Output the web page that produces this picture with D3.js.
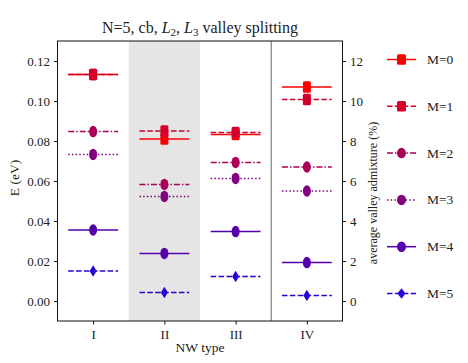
<!DOCTYPE html>
<html>
<head>
<meta charset="utf-8">
<script src="https://cdn.jsdelivr.net/npm/d3@7"></script>
<style>
  body { margin: 0; background: #fff; }
</style>
</head>
<body>
<div id="chart"></div>
<script>
// NW types on the x axis
const nwTypes = ["I", "II", "III", "IV"];
const seriesNames = ["M=0", "M=1", "M=2", "M=3", "M=4", "M=5"];

// energies (eV) per NW type, one array per M
const eM0 = [0.1133, 0.0810, 0.0832, 0.1070];
const eM1 = [0.1133, 0.0850, 0.0842, 0.1008];
const eM2 = [0.0847, 0.0583, 0.0693, 0.0670];
const eM3 = [0.0733, 0.0523, 0.0613, 0.0550];
const eM4 = [0.0355, 0.0238, 0.0347, 0.0192];
const eM5 = [0.0150, 0.0043, 0.0122, 0.0027];

const leftTicks = [0.00, 0.02, 0.04, 0.06, 0.08, 0.10, 0.12];
const rightTicks = [0, 2, 4, 6, 8, 10, 12];

const energies = [eM0, eM1, eM2, eM3, eM4, eM5];
const colors = ["#ff0000", "#d4002a", "#aa0055", "#800080", "#5500aa", "#2a00d4"];
const dashes = [null, "5.5,2.4", "6,2,1.5,2", "1.5,2.2", null, "5.5,2.4"];
const shapes = ["square", "square", "circle", "circle", "circle", "diamond"];

const FONT = "Liberation Serif";
const width = 468, height = 363;
const box = { left: 57.5, right: 342.5, top: 41, bottom: 321 };

const svg = d3.select("#chart").append("svg")
  .attr("width", width)
  .attr("height", height)
  .attr("font-family", FONT);

const x = d3.scaleLinear().domain([-0.5, 3.5]).range([box.left, box.right]);
const yL = d3.scaleLinear().domain([-0.01, 0.13]).range([box.bottom, box.top]);
const yR = d3.scaleLinear().domain([-1, 13]).range([box.bottom, box.top]);

// shaded band for type II, separator before IV
svg.append("rect")
  .attr("x", x(0.5)).attr("y", box.top)
  .attr("width", x(1.5) - x(0.5)).attr("height", box.bottom - box.top)
  .attr("fill", "#e5e5e5");
svg.append("line")
  .attr("x1", x(2.5)).attr("x2", x(2.5))
  .attr("y1", box.top).attr("y2", box.bottom)
  .attr("stroke", "#808080").attr("stroke-width", 1.2);

function drawMarker(g, shape, cx, cy, w, h, color) {
  if (shape === "square") {
    g.append("rect")
      .attr("x", cx - w / 2).attr("y", cy - h / 2)
      .attr("width", w).attr("height", h)
      .attr("rx", 1.5)
      .attr("fill", color);
  } else if (shape === "circle") {
    g.append("ellipse")
      .attr("cx", cx).attr("cy", cy)
      .attr("rx", w / 2).attr("ry", h / 2)
      .attr("fill", color);
  } else {
    g.append("path")
      .attr("d", `M${cx},${cy - h / 2}L${cx + w / 2},${cy}L${cx},${cy + h / 2}L${cx - w / 2},${cy}Z`)
      .attr("fill", color);
  }
}

const plot = svg.append("g");
energies.forEach((vals, m) => {
  const g = plot.append("g");
  vals.forEach((v, i) => {
    g.append("line")
      .attr("x1", x(i - 0.35)).attr("x2", x(i + 0.35))
      .attr("y1", yL(v)).attr("y2", yL(v))
      .attr("stroke", colors[m])
      .attr("stroke-width", 1.5)
      .attr("stroke-dasharray", dashes[m]);
  });
  vals.forEach((v, i) => {
    const w = shapes[m] === "diamond" ? 7 : 8;
    drawMarker(g, shapes[m], x(i), yL(v), w, 11.5, colors[m]);
  });
});

// frame
svg.append("rect")
  .attr("x", box.left).attr("y", box.top)
  .attr("width", box.right - box.left).attr("height", box.bottom - box.top)
  .attr("fill", "none").attr("stroke", "#111").attr("stroke-width", 1);

const leftAxis = svg.append("g")
  .attr("transform", `translate(${box.left},0)`)
  .call(d3.axisLeft(yL).tickValues(leftTicks).tickSize(3.5).tickPadding(4).tickFormat(d3.format(".2f")));
const rightAxis = svg.append("g")
  .attr("transform", `translate(${box.right},0)`)
  .call(d3.axisRight(yR).tickValues(rightTicks).tickSize(3.5).tickPadding(4));
const bottomAxis = svg.append("g")
  .attr("transform", `translate(0,${box.bottom})`)
  .call(d3.axisBottom(x).tickValues([0, 1, 2, 3]).tickSize(3.5).tickPadding(5).tickFormat(i => nwTypes[i]));

[leftAxis, rightAxis, bottomAxis].forEach(a => {
  a.attr("font-family", FONT).attr("font-size", 13);
  a.select(".domain").remove();
  a.selectAll("line").attr("stroke", "#111");
  a.selectAll("text").attr("fill", "#222");
});

function label(sel) {
  return sel.attr("font-family", FONT).attr("fill", "#222");
}

// axis titles
label(svg.append("text"))
  .attr("transform", "translate(19,178) rotate(-90)")
  .attr("text-anchor", "middle")
  .attr("font-size", 13.5)
  .text("E (eV)");
label(svg.append("text"))
  .attr("transform", "translate(377,193) rotate(-90)")
  .attr("text-anchor", "middle")
  .attr("font-size", 12)
  .text("average valley admixture (%)");
label(svg.append("text"))
  .attr("x", (box.left + box.right) / 2).attr("y", 352)
  .attr("text-anchor", "middle")
  .attr("font-size", 13.5)
  .text("NW type");

// title with italic L and subscripts
const title = label(svg.append("text"))
  .attr("x", (box.left + box.right) / 2).attr("y", 33)
  .attr("text-anchor", "middle")
  .attr("font-size", 16);
title.append("tspan").text("N=5, cb, ");
title.append("tspan").attr("font-style", "italic").text("L");
title.append("tspan").attr("dy", 3).attr("font-size", 11).text("2");
title.append("tspan").attr("dy", -3).text(", ");
title.append("tspan").attr("font-style", "italic").text("L");
title.append("tspan").attr("dy", 3).attr("font-size", 11).text("3");
title.append("tspan").attr("dy", -3).text(" valley splitting");

// legend
const legend = svg.append("g");
seriesNames.forEach((name, m) => {
  const ly = 59.5 + m * 46.8;
  legend.append("line")
    .attr("x1", 387).attr("x2", 416)
    .attr("y1", ly).attr("y2", ly)
    .attr("stroke", colors[m]).attr("stroke-width", 1.5)
    .attr("stroke-dasharray", dashes[m]);
  drawMarker(legend, shapes[m], 401.5, ly, shapes[m] === "diamond" ? 8 : 9, 10.5, colors[m]);
  label(legend.append("text"))
    .attr("x", 427).attr("y", ly + 4.5)
    .attr("font-size", 13.5)
    .text(name);
});
</script>
</body>
</html>
